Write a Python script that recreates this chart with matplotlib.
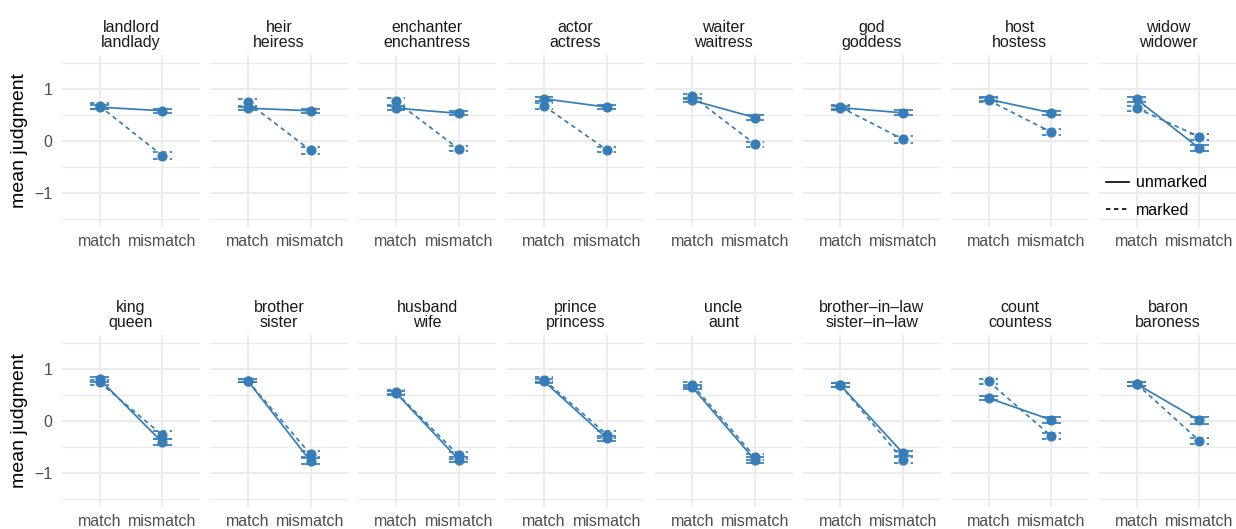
import matplotlib
matplotlib.use("Agg")
import matplotlib.pyplot as plt
from matplotlib.lines import Line2D
import numpy as np

plt.rcParams['font.family'] = ['Liberation Sans', 'DejaVu Sans']

# panel titles (row 1 then row 2)
pairs = ['landlord\nlandlady', 'heir\nheiress', 'enchanter\nenchantress', 'actor\nactress',
         'waiter\nwaitress', 'god\ngoddess', 'host\nhostess', 'widow\nwidower',
         'king\nqueen', 'brother\nsister', 'husband\nwife', 'prince\nprincess',
         'uncle\naunt', 'brother\u2013in\u2013law\nsister\u2013in\u2013law', 'count\ncountess', 'baron\nbaroness']

conditions = ['match', 'mismatch']

# mean judgments
unmarked_match    = [0.65, 0.63, 0.63, 0.81, 0.78, 0.64, 0.80, 0.80,
                     0.80, 0.77, 0.54, 0.76, 0.65, 0.69, 0.44, 0.71]
unmarked_mismatch = [0.58, 0.58, 0.53, 0.65, 0.45, 0.54, 0.54, -0.14,
                     -0.41, -0.77, -0.74, -0.33, -0.75, -0.62, 0.02, 0.01]
marked_match      = [0.67, 0.74, 0.76, 0.67, 0.86, 0.65, 0.78, 0.63,
                     0.74, 0.77, 0.55, 0.79, 0.70, 0.69, 0.76, 0.71]
marked_mismatch   = [-0.28, -0.18, -0.15, -0.17, -0.06, 0.03, 0.17, 0.08,
                     -0.27, -0.64, -0.66, -0.26, -0.69, -0.75, -0.29, -0.38]

# standard errors (approx.)
unmarked_se_match    = [0.04, 0.03, 0.04, 0.04, 0.04, 0.04, 0.04, 0.05,
                        0.05, 0.03, 0.04, 0.04, 0.04, 0.03, 0.04, 0.03]
unmarked_se_mismatch = [0.04, 0.04, 0.04, 0.04, 0.05, 0.05, 0.04, 0.06,
                        0.06, 0.06, 0.05, 0.05, 0.05, 0.05, 0.05, 0.06]
marked_se_match      = [0.05, 0.06, 0.06, 0.06, 0.05, 0.04, 0.04, 0.05,
                        0.05, 0.03, 0.04, 0.05, 0.05, 0.04, 0.05, 0.04]
marked_se_mismatch   = [0.06, 0.06, 0.05, 0.05, 0.05, 0.06, 0.06, 0.06,
                        0.07, 0.06, 0.06, 0.06, 0.06, 0.05, 0.06, 0.06]

blue = '#377EB8'
grid_col = '#EBEBEB'
dash = (0, (2.6, 2.2))

W, H = 1236, 529
fig = plt.figure(figsize=(W / 100, H / 100), dpi=100)

x = np.array([1, 2])
panel_w = 138
step = 148.15
rows_top = [55, 335]
panel_h = 172

for k, title in enumerate(pairs):
    r, c = divmod(k, 8)
    left = 62 + c * step
    top = rows_top[r]
    ax = fig.add_axes([left / W, 1 - (top + panel_h) / H, panel_w / W, panel_h / H])

    ax.set_xlim(0.4, 2.6)
    ax.set_ylim(-1.65, 1.65)
    for y in [-1.5, -0.5, 0.5, 1.5]:
        ax.axhline(y, color=grid_col, lw=0.9, zorder=0)
    for y in [-1, 0, 1]:
        ax.axhline(y, color=grid_col, lw=1.3, zorder=0)
    for xx in x:
        ax.axvline(xx, color=grid_col, lw=1.3, zorder=0)

    series = [
        ([unmarked_match[k], unmarked_mismatch[k]], [unmarked_se_match[k], unmarked_se_mismatch[k]], '-'),
        ([marked_match[k], marked_mismatch[k]], [marked_se_match[k], marked_se_mismatch[k]], dash),
    ]
    for means, ses, ls in series:
        means = np.array(means)
        ses = np.array(ses)
        ax.plot(x, means, color=blue, lw=1.25, linestyle=ls, zorder=2)
        ax.vlines(x, means - ses, means + ses, color=blue, lw=1.25, linestyles=[ls], zorder=2)
        for lim in (means - ses, means + ses):
            ax.hlines(lim, x - 0.15, x + 0.15, color=blue, lw=1.25, linestyles=[ls], zorder=2)
        ax.plot(x, means, 'o', color=blue, ms=6.3, zorder=3)

    ax.set_title(title, fontsize=11.5, color='#1A1A1A', pad=6, linespacing=1.0)
    ax.set_xticks(x)
    ax.set_xticklabels(conditions)
    ax.set_yticks([-1, 0, 1])
    ax.set_yticklabels(['\u22121', '0', '1'])
    ax.tick_params(length=0, labelsize=11.5, labelcolor='#4D4D4D', pad=7)
    ax.tick_params(axis='x', pad=5)
    if c != 0:
        ax.tick_params(labelleft=False)
    for s in ax.spines.values():
        s.set_visible(False)
    ax.set_facecolor('none')

for top in rows_top:
    fig.text(20 / W, 1 - (top + panel_h / 2) / H, 'mean judgment', rotation=90,
             ha='center', va='center', fontsize=14)

handles = [Line2D([], [], color='black', lw=1.2, linestyle='-'),
           Line2D([], [], color='black', lw=1.2, linestyle=dash)]
fig.legend(handles, ['unmarked', 'marked'], loc='center left',
           bbox_to_anchor=(1106 / W, 1 - 196.5 / H), frameon=False, fontsize=11.5,
           handlelength=1.45, handletextpad=0.45, labelspacing=0.8,
           borderpad=0, borderaxespad=0)

fig.savefig('out.png', dpi=100)
